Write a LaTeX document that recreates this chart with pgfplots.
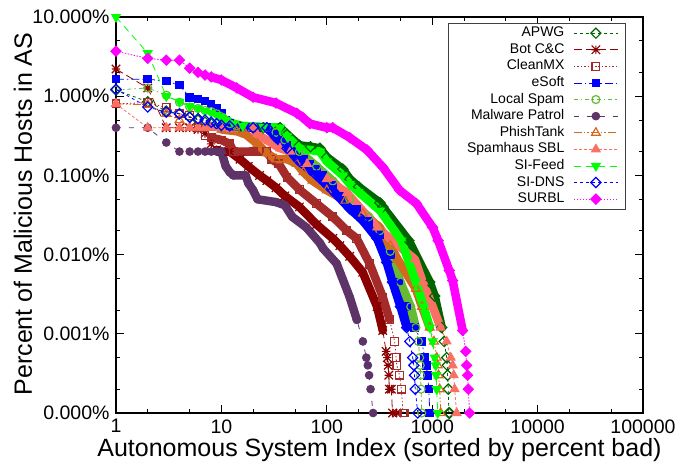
\documentclass[border=0pt]{standalone}
\usepackage{pgfplots}
\pgfplotsset{compat=1.18}
\usepackage{pgfplotstable}
\usepackage{fontspec}
\setmainfont{Liberation Sans}

\definecolor{cAPWG}{RGB}{0,100,0}
\definecolor{cBot}{RGB}{139,0,0}
\definecolor{cClean}{RGB}{165,42,42}
\definecolor{cESoft}{RGB}{0,0,255}
\definecolor{cLocal}{RGB}{102,187,51}
\definecolor{cMal}{RGB}{94,52,104}
\definecolor{cPhish}{RGB}{210,105,30}
\definecolor{cSpam}{RGB}{250,112,100}
\definecolor{cSIF}{RGB}{0,255,0}
\definecolor{cSID}{RGB}{0,0,255}
\definecolor{cSURBL}{RGB}{255,0,255}

\pgfdeclareplotmark{gpstar}{%
 \pgfpathmoveto{\pgfqpoint{-\pgfplotmarksize}{0pt}}\pgfpathlineto{\pgfqpoint{\pgfplotmarksize}{0pt}}%
 \pgfpathmoveto{\pgfqpoint{0pt}{-\pgfplotmarksize}}\pgfpathlineto{\pgfqpoint{0pt}{\pgfplotmarksize}}%
 \pgfpathmoveto{\pgfqpoint{-\pgfplotmarksize}{-\pgfplotmarksize}}\pgfpathlineto{\pgfqpoint{\pgfplotmarksize}{\pgfplotmarksize}}%
 \pgfpathmoveto{\pgfqpoint{-\pgfplotmarksize}{\pgfplotmarksize}}\pgfpathlineto{\pgfqpoint{\pgfplotmarksize}{-\pgfplotmarksize}}%
 \pgfusepathqstroke}

\pgfplotstableread{
r p b
1 1.2 0
2 0.85 0
3 0.65 0
4 0.6 0
5 0.55 0
6 0.5 0
7 0.47 0
8 0.45 0
10 0.42 1
15 0.41 1
25 0.4 1
36 0.4 1
42 0.33 1
55 0.24 1
70 0.23 1
86 0.22 1
100 0.17 1
142 0.12 1
165 0.09 1
200 0.072 1
320 0.045 1
340 0.04 1
600 0.015 1
947 0.0045 1
1056 0.003 1
1231 0.0012 1
1300 0.0008 0
1372 0.0005 0
1390 0.0004 0
1400 0.0003 0
1420 0.0002 0
1440 0.0001 0
1465 0.0001 0
}\tAPWG

\pgfplotstableread{
r p b
1 2.2 0
2 1.27 0
3 0.4 0
4 0.4 0
5 0.4 0
6 0.38 0
7 0.34 0
8 0.25 0
9 0.21 1
10 0.2 1
12 0.2 1
15 0.16 1
18 0.13 1
23 0.1 1
27 0.086 1
33 0.07 1
40 0.055 1
55 0.04 1
80 0.024 1
114 0.016 1
133 0.013 1
165 0.0095 1
219 0.006 1
300 0.0022 1
340 0.0011 1
365 0.0006 0
375 0.0005 0
382 0.0004 0
388 0.0003 0
392 0.0002 0
410 0.0002 0
420 0.0001 0
460 0.0001 0
}\tBot

\pgfplotstableread{
r p b
1 0.8 0
2 0.83 0
3 0.72 0
4 0.6 0
5 0.57 0
6 0.4 0
7 0.32 0
8 0.3 1
10 0.28 1
12 0.25 1
13 0.2 1
20 0.2 1
27 0.2 1
30 0.16 1
35 0.14 1
42 0.095 1
55 0.066 1
80 0.044 1
114 0.03 1
155 0.02 1
192 0.016 1
255 0.0077 1
340 0.0029 1
395 0.0015 1
440 0.0008 0
455 0.0005 0
461 0.0004 0
490 0.0003 0
510 0.0002 0
530 0.0001 0
549 0.0001 0
}\tClean

\pgfplotstableread{
r p b
1 1.64 0
2 1.64 0
3 1.55 0
4 1.38 0
5 0.97 0
6 0.92 0
7 0.87 0
8 0.8 0
9 0.7 0
10 0.6 0
11 0.5 1
12 0.45 1
14 0.42 1
20 0.41 1
27 0.4 1
33 0.33 1
38 0.28 1
42 0.24 1
52 0.2 1
60 0.16 1
69 0.14 1
80 0.12 1
92 0.1 1
114 0.075 1
142 0.055 1
192 0.037 1
250 0.026 1
318 0.018 1
400 0.01 1
480 0.0045 1
573 0.0022 1
680 0.0012 1
795 0.0008 0
850 0.0005 0
880 0.0004 0
900 0.0003 0
930 0.0002 0
947 0.0001 0
}\tESoft

\pgfplotstableread{
r p b
1 1.2 0
2 1.27 0
3 1.03 0
4 0.84 0
5 0.73 0
6 0.7 0
7 0.66 0
8 0.64 0
9 0.6 0
10 0.55 0
11 0.5 1
12 0.45 1
14 0.42 1
20 0.41 1
27 0.4 1
33 0.35 1
40 0.28 1
55 0.2 1
80 0.13 1
114 0.085 1
165 0.05 1
250 0.03 1
318 0.02 1
400 0.011 1
500 0.0045 1
625 0.0022 1
700 0.0012 1
740 0.0008 0
760 0.0005 0
770 0.0004 0
775 0.0003 0
785 0.0002 0
795 0.0001 0
}\tLocal

\pgfplotstableread{
r p b
1 0.4 0
2 0.4 0
3 0.26 0
4 0.2 0
5 0.2 0
6 0.2 0
7 0.2 0
8 0.2 0
9 0.2 0
10 0.2 1
11 0.13 1
12 0.11 1
13 0.1 1
17 0.1 1
18 0.08 1
20 0.065 1
22 0.05 1
33 0.046 1
40 0.042 1
47 0.03 1
64 0.022 1
86 0.014 1
92 0.012 1
124 0.0077 1
165 0.0029 1
193 0.0015 1
220 0.0008 0
237 0.0005 0
245 0.0004 0
252 0.0003 0
260 0.0002 0
275 0.0001 0
}\tMal

\pgfplotstableread{
r p b
1 0.8 0
2 0.78 0
3 0.6 0
4 0.5 0
5 0.4 0
6 0.4 0
7 0.4 0
8 0.4 0
10 0.38 1
14 0.36 1
17 0.33 1
22 0.25 1
27 0.19 1
33 0.16 1
42 0.16 1
52 0.14 1
60 0.11 1
73 0.086 1
100 0.065 1
150 0.048 1
220 0.033 1
318 0.022 1
400 0.013 1
470 0.0087 1
700 0.0037 1
800 0.0022 1
947 0.0012 1
1040 0.0008 0
1104 0.0005 0
1130 0.0004 0
1150 0.0003 0
1178 0.0002 0
1205 0.0001 0
}\tPhish

\pgfplotstableread{
r p b
1 0.8 0
2 0.4 0
3 0.4 0
4 0.4 0
5 0.4 0
6 0.4 0
7 0.4 0
8 0.4 0
10 0.4 1
20 0.4 1
22 0.33 1
28 0.27 1
36 0.22 1
45 0.2 1
65 0.14 1
100 0.09 1
155 0.06 1
300 0.022 1
685 0.0087 1
813 0.0045 1
1011 0.0022 1
1200 0.0012 1
1372 0.0008 0
1500 0.0005 0
1564 0.0004 0
1600 0.0003 0
1633 0.0002 0
1706 0.0001 0
}\tSpam

\pgfplotstableread{
r p b
1 10 0
2 3.5 0
3 1.0 0
4 0.85 0
5 0.75 0
6 0.7 0
7 0.65 0
8 0.62 0
9 0.58 0
10 0.55 1
11 0.5 1
13 0.45 1
16 0.42 1
25 0.41 1
36 0.4 1
42 0.31 1
55 0.22 1
86 0.2 1
100 0.15 1
142 0.1 1
165 0.078 1
200 0.062 1
320 0.036 1
510 0.015 1
700 0.0045 1
830 0.0022 1
950 0.0012 1
1011 0.0008 0
1056 0.0005 0
1080 0.0004 0
1090 0.0003 0
1104 0.0002 0
1128 0.0001 0
}\tSIF

\pgfplotstableread{
r p b
1 1.22 0
2 0.73 0
3 0.63 0
4 0.6 0
5 0.54 0
6 0.52 0
7 0.5 0
8 0.47 0
9 0.45 0
10 0.43 1
12 0.42 1
20 0.4 1
27 0.4 1
33 0.3 1
42 0.22 1
55 0.15 1
80 0.1 1
114 0.064 1
165 0.038 1
219 0.027 1
300 0.016 1
370 0.008 1
420 0.0045 1
500 0.0022 1
573 0.0012 1
612 0.0008 0
653 0.0005 0
670 0.0004 0
680 0.0003 0
690 0.0002 0
729 0.0001 0
}\tSID

\pgfplotstableread{
r p b
1 3.7 0
2 3.0 0
3 2.85 0
4 2.85 0
5 2.26 0
6 2.0 0
7 1.85 0
8 1.75 1
10 1.6 1
14 1.27 1
20 0.97 1
33 0.82 1
52 0.61 1
59 0.54 1
69 0.45 1
100 0.4 1
114 0.4 1
165 0.3 1
240 0.21 1
340 0.127 1
490 0.065 1
710 0.044 1
1011 0.022 1
1140 0.015 1
1450 0.0063 1
1564 0.0047 1
1945 0.0011 1
2080 0.0006 0
2123 0.0004 0
2170 0.0003 0
2200 0.0002 0
2266 0.0001 0
}\tSURBL

% #1 table, #2 colour, #3 dash pattern, #4 mark options, #5 legend text
\newcommand{\series}[5]{%
 \addplot[color=#2, line width=8.5pt, line join=round, line cap=round, forget plot,
   restrict expr to domain={\thisrow{b}}{0.5:1.5}] table[x=r,y=p]{#1};
 \addplot[color=#2, line width=0.8pt, dash pattern=#3, #4] table[x=r,y=p]{#1};
 \addlegendentry{#5}
}

\begin{document}
\begin{tikzpicture}
\begin{axis}[
 scale only axis, width=527pt, height=396pt,
 xmode=log, ymode=log, xmin=1, xmax=100000, ymin=1e-4, ymax=10,
 xtick={1,10,100,1000,10000,100000},
 xticklabels={1,10,100,1000,10000,100000},
 ytick={1e-4,1e-3,1e-2,1e-1,1,10},
 yticklabels={0.000\%,0.001\%,0.010\%,0.100\%,1.000\%,10.000\%},
 minor xtick={2,5,20,50,200,500,2000,5000,20000,50000},
 minor ytick={2e-4,5e-4,2e-3,5e-3,0.02,0.05,0.2,0.5,2,5},
 tick align=inside, major tick length=8pt, minor tick length=4pt,
 every tick/.style={black, line width=0.8pt},
 axis line style={line width=1.2pt},
 ticklabel style={font=\fontsize{19.5}{23}\selectfont},
 yticklabel style={xshift=-3pt},
 xticklabel style={yshift=-3pt},
 label style={font=\fontsize{25}{30}\selectfont},
 xlabel={Autonomous System Index (sorted by percent bad)},
 ylabel={Percent of Malicious Hosts in AS},
 xlabel style={at={(axis description cs:0.5,-0.1086)}, anchor=base},
 ylabel style={at={(axis description cs:-0.1594,0.5025)}, anchor=base},
 clip=false,
 legend cell align=right,
 legend plot pos=right,
 legend style={at={(0.966,0.985)}, anchor=north east, draw=black!75,
   font=\fontsize{14}{16}\selectfont, inner xsep=3pt, inner ysep=2pt,
   nodes={inner sep=1.5pt, text height=10pt, text depth=3pt},
   row sep=0.6pt},
 legend image code/.code={%
   \path[draw=none, fill=none] (0pt,0pt) -- (56pt,0pt);
   \draw[mark repeat=2, mark phase=2, #1] plot coordinates {(8pt,0pt) (30pt,0pt) (52pt,0pt)};},
]
\series{\tAPWG}{cAPWG}{on 3pt off 3pt}{mark=square, mark size=3.6pt, mark options={solid, rotate=45, line width=1.2pt}}{APWG}
\series{\tBot}{cBot}{on 8pt off 4pt}{mark=gpstar, mark size=4.2pt, mark options={solid, line width=1.2pt}}{Bot C\&C}
\series{\tClean}{cClean}{on 1.5pt off 2pt}{mark=square, mark size=3.8pt, mark options={solid, line width=1.2pt}}{CleanMX}
\series{\tESoft}{cESoft}{on 8pt off 3pt on 1.5pt off 3pt}{mark=square*, mark size=3.8pt, mark options={solid, line width=1pt}}{eSoft}
\series{\tLocal}{cLocal}{on 4pt off 3pt on 1.5pt off 3pt}{mark=o, mark size=4pt, mark options={solid, line width=1.2pt}}{Local Spam}
\series{\tMal}{cMal}{on 5pt off 8pt}{mark=*, mark size=3.8pt, mark options={solid, line width=1pt}}{Malware Patrol}
\series{\tPhish}{cPhish}{on 8pt off 2pt on 1.5pt off 2pt on 1.5pt off 2pt}{mark=triangle, mark size=5pt, mark options={solid, line width=1.2pt}}{PhishTank}
\series{\tSpam}{cSpam}{on 3pt off 2pt}{mark=triangle*, mark size=5pt, mark options={solid, line width=1pt}}{\makebox[112pt][r]{Spamhaus SBL}}
\series{\tSIF}{cSIF}{on 7pt off 5pt}{mark=triangle*, mark size=5pt, mark options={solid, rotate=180, line width=1pt}}{SI-Feed}
\series{\tSID}{cSID}{on 3pt off 3pt}{mark=square, mark size=3.6pt, mark options={solid, rotate=45, line width=1.2pt}}{SI-DNS}
\series{\tSURBL}{cSURBL}{on 1.5pt off 1.5pt}{mark=square*, mark size=3.6pt, mark options={solid, rotate=45, line width=1pt}}{SURBL}
\end{axis}
\path (current axis.south west) ++(-116pt,-51pt) rectangle ++(683pt,464pt);
\end{tikzpicture}
\end{document}
